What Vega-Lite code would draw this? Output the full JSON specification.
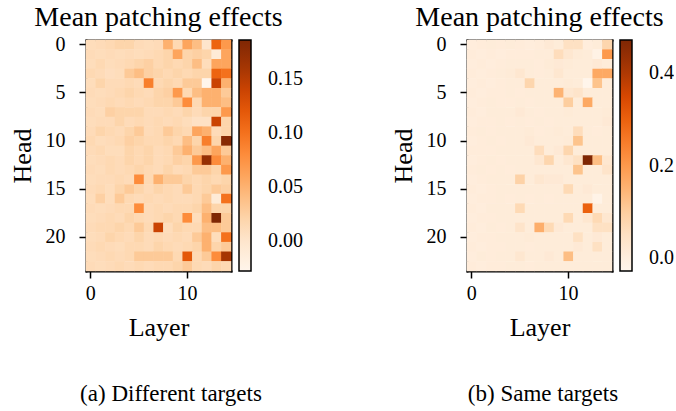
{
"$schema":"https://vega.github.io/schema/vega-lite/v6.json",
"padding":{"left":9,"top":4,"right":0,"bottom":0},
"background":"white",
"config":{
 "font":"Liberation Serif",
 "view":{"stroke":null},
 "axis":{"domain":true,"domainColor":"black","domainWidth":2,"domainCap":"square","zindex":1,"grid":false,"tickColor":"black","tickSize":7,"tickWidth":1.5,"labelFont":"Liberation Serif","labelFontSize":20,"labelColor":"black","labelAngle":0,"titleFont":"Liberation Serif","titleFontSize":26,"titleFontWeight":"normal","titleColor":"black"},
 "axisX":{"labelPadding":5,"titlePadding":11},
 "axisY":{"labelPadding":14,"titlePadding":10},
 "legend":{"type":"gradient","direction":"vertical","gradientLength":231,"gradientThickness":12,"gradientStrokeColor":"black","gradientStrokeWidth":1.5,"labelFont":"Liberation Serif","labelFontSize":20,"labelColor":"black","labelOffset":17,"padding":0,"orient":"none","legendX":153,"legendY":0},
 "title":{"font":"Liberation Serif","fontSize":28,"fontWeight":"normal","color":"black"}
},
"datasets":{
"a":[
{"h":0,"l":0,"v":0.010},{"h":0,"l":1,"v":0.012},{"h":0,"l":2,"v":0.015},{"h":0,"l":3,"v":0.020},{"h":0,"l":4,"v":0.020},{"h":0,"l":5,"v":0.012},{"h":0,"l":6,"v":0.010},{"h":0,"l":7,"v":0.012},{"h":0,"l":8,"v":0.050},{"h":0,"l":9,"v":0.015},{"h":0,"l":10,"v":0.060},{"h":0,"l":11,"v":0.040},{"h":0,"l":12,"v":0.000},{"h":0,"l":13,"v":0.110},{"h":0,"l":14,"v":0.070},
{"h":1,"l":0,"v":0.012},{"h":1,"l":1,"v":0.010},{"h":1,"l":2,"v":0.012},{"h":1,"l":3,"v":0.010},{"h":1,"l":4,"v":0.012},{"h":1,"l":5,"v":0.010},{"h":1,"l":6,"v":0.012},{"h":1,"l":7,"v":0.015},{"h":1,"l":8,"v":0.020},{"h":1,"l":9,"v":0.060},{"h":1,"l":10,"v":0.020},{"h":1,"l":11,"v":0.025},{"h":1,"l":12,"v":0.020},{"h":1,"l":13,"v":-0.010},{"h":1,"l":14,"v":0.060},
{"h":2,"l":0,"v":0.010},{"h":2,"l":1,"v":0.015},{"h":2,"l":2,"v":0.010},{"h":2,"l":3,"v":0.012},{"h":2,"l":4,"v":0.015},{"h":2,"l":5,"v":0.020},{"h":2,"l":6,"v":0.025},{"h":2,"l":7,"v":0.015},{"h":2,"l":8,"v":0.020},{"h":2,"l":9,"v":0.015},{"h":2,"l":10,"v":0.020},{"h":2,"l":11,"v":0.040},{"h":2,"l":12,"v":0.010},{"h":2,"l":13,"v":0.060},{"h":2,"l":14,"v":0.060},
{"h":3,"l":0,"v":0.015},{"h":3,"l":1,"v":0.012},{"h":3,"l":2,"v":0.008},{"h":3,"l":3,"v":0.010},{"h":3,"l":4,"v":0.030},{"h":3,"l":5,"v":0.040},{"h":3,"l":6,"v":0.025},{"h":3,"l":7,"v":0.020},{"h":3,"l":8,"v":0.015},{"h":3,"l":9,"v":0.020},{"h":3,"l":10,"v":0.015},{"h":3,"l":11,"v":0.020},{"h":3,"l":12,"v":0.020},{"h":3,"l":13,"v":0.110},{"h":3,"l":14,"v":0.100},
{"h":4,"l":0,"v":0.010},{"h":4,"l":1,"v":0.020},{"h":4,"l":2,"v":0.012},{"h":4,"l":3,"v":0.012},{"h":4,"l":4,"v":0.015},{"h":4,"l":5,"v":0.012},{"h":4,"l":6,"v":0.090},{"h":4,"l":7,"v":0.015},{"h":4,"l":8,"v":0.020},{"h":4,"l":9,"v":0.015},{"h":4,"l":10,"v":0.030},{"h":4,"l":11,"v":0.030},{"h":4,"l":12,"v":-0.028},{"h":4,"l":13,"v":0.140},{"h":4,"l":14,"v":0.050},
{"h":5,"l":0,"v":0.012},{"h":5,"l":1,"v":0.010},{"h":5,"l":2,"v":0.012},{"h":5,"l":3,"v":0.015},{"h":5,"l":4,"v":0.020},{"h":5,"l":5,"v":0.015},{"h":5,"l":6,"v":0.012},{"h":5,"l":7,"v":0.020},{"h":5,"l":8,"v":0.025},{"h":5,"l":9,"v":0.070},{"h":5,"l":10,"v":0.015},{"h":5,"l":11,"v":0.040},{"h":5,"l":12,"v":0.050},{"h":5,"l":13,"v":0.050},{"h":5,"l":14,"v":0.030},
{"h":6,"l":0,"v":0.010},{"h":6,"l":1,"v":0.012},{"h":6,"l":2,"v":0.015},{"h":6,"l":3,"v":0.012},{"h":6,"l":4,"v":0.015},{"h":6,"l":5,"v":0.012},{"h":6,"l":6,"v":0.015},{"h":6,"l":7,"v":0.020},{"h":6,"l":8,"v":0.020},{"h":6,"l":9,"v":0.030},{"h":6,"l":10,"v":0.080},{"h":6,"l":11,"v":0.015},{"h":6,"l":12,"v":0.050},{"h":6,"l":13,"v":0.050},{"h":6,"l":14,"v":0.040},
{"h":7,"l":0,"v":0.012},{"h":7,"l":1,"v":0.010},{"h":7,"l":2,"v":0.025},{"h":7,"l":3,"v":0.020},{"h":7,"l":4,"v":0.020},{"h":7,"l":5,"v":0.020},{"h":7,"l":6,"v":0.012},{"h":7,"l":7,"v":0.012},{"h":7,"l":8,"v":0.015},{"h":7,"l":9,"v":0.012},{"h":7,"l":10,"v":0.020},{"h":7,"l":11,"v":0.012},{"h":7,"l":12,"v":0.020},{"h":7,"l":13,"v":0.020},{"h":7,"l":14,"v":0.070},
{"h":8,"l":0,"v":0.010},{"h":8,"l":1,"v":0.012},{"h":8,"l":2,"v":0.012},{"h":8,"l":3,"v":0.020},{"h":8,"l":4,"v":0.012},{"h":8,"l":5,"v":0.015},{"h":8,"l":6,"v":0.012},{"h":8,"l":7,"v":0.015},{"h":8,"l":8,"v":0.012},{"h":8,"l":9,"v":0.015},{"h":8,"l":10,"v":0.010},{"h":8,"l":11,"v":0.005},{"h":8,"l":12,"v":0.005},{"h":8,"l":13,"v":0.140},{"h":8,"l":14,"v":0.020},
{"h":9,"l":0,"v":0.012},{"h":9,"l":1,"v":0.020},{"h":9,"l":2,"v":0.015},{"h":9,"l":3,"v":0.012},{"h":9,"l":4,"v":0.020},{"h":9,"l":5,"v":0.030},{"h":9,"l":6,"v":0.012},{"h":9,"l":7,"v":0.015},{"h":9,"l":8,"v":0.030},{"h":9,"l":9,"v":0.020},{"h":9,"l":10,"v":0.015},{"h":9,"l":11,"v":0.060},{"h":9,"l":12,"v":0.050},{"h":9,"l":13,"v":0.012},{"h":9,"l":14,"v":0.020},
{"h":10,"l":0,"v":0.015},{"h":10,"l":1,"v":0.010},{"h":10,"l":2,"v":0.012},{"h":10,"l":3,"v":0.015},{"h":10,"l":4,"v":0.025},{"h":10,"l":5,"v":0.020},{"h":10,"l":6,"v":0.015},{"h":10,"l":7,"v":0.015},{"h":10,"l":8,"v":0.020},{"h":10,"l":9,"v":0.015},{"h":10,"l":10,"v":0.040},{"h":10,"l":11,"v":0.020},{"h":10,"l":12,"v":0.090},{"h":10,"l":13,"v":0.020},{"h":10,"l":14,"v":0.180},
{"h":11,"l":0,"v":0.012},{"h":11,"l":1,"v":0.015},{"h":11,"l":2,"v":0.010},{"h":11,"l":3,"v":0.010},{"h":11,"l":4,"v":0.020},{"h":11,"l":5,"v":0.015},{"h":11,"l":6,"v":0.020},{"h":11,"l":7,"v":0.012},{"h":11,"l":8,"v":0.015},{"h":11,"l":9,"v":0.030},{"h":11,"l":10,"v":0.050},{"h":11,"l":11,"v":0.030},{"h":11,"l":12,"v":0.040},{"h":11,"l":13,"v":0.060},{"h":11,"l":14,"v":0.030},
{"h":12,"l":0,"v":0.010},{"h":12,"l":1,"v":0.012},{"h":12,"l":2,"v":0.015},{"h":12,"l":3,"v":0.012},{"h":12,"l":4,"v":0.020},{"h":12,"l":5,"v":0.015},{"h":12,"l":6,"v":0.020},{"h":12,"l":7,"v":0.012},{"h":12,"l":8,"v":0.015},{"h":12,"l":9,"v":0.025},{"h":12,"l":10,"v":0.020},{"h":12,"l":11,"v":0.070},{"h":12,"l":12,"v":0.170},{"h":12,"l":13,"v":0.080},{"h":12,"l":14,"v":0.050},
{"h":13,"l":0,"v":0.012},{"h":13,"l":1,"v":0.010},{"h":13,"l":2,"v":0.015},{"h":13,"l":3,"v":0.012},{"h":13,"l":4,"v":0.015},{"h":13,"l":5,"v":0.020},{"h":13,"l":6,"v":0.015},{"h":13,"l":7,"v":0.012},{"h":13,"l":8,"v":0.020},{"h":13,"l":9,"v":0.012},{"h":13,"l":10,"v":0.015},{"h":13,"l":11,"v":0.030},{"h":13,"l":12,"v":0.030},{"h":13,"l":13,"v":0.020},{"h":13,"l":14,"v":0.070},
{"h":14,"l":0,"v":0.010},{"h":14,"l":1,"v":0.012},{"h":14,"l":2,"v":0.012},{"h":14,"l":3,"v":0.015},{"h":14,"l":4,"v":0.012},{"h":14,"l":5,"v":0.080},{"h":14,"l":6,"v":0.015},{"h":14,"l":7,"v":0.050},{"h":14,"l":8,"v":0.030},{"h":14,"l":9,"v":0.030},{"h":14,"l":10,"v":0.020},{"h":14,"l":11,"v":0.015},{"h":14,"l":12,"v":0.020},{"h":14,"l":13,"v":0.015},{"h":14,"l":14,"v":0.020},
{"h":15,"l":0,"v":0.012},{"h":15,"l":1,"v":0.015},{"h":15,"l":2,"v":0.010},{"h":15,"l":3,"v":0.020},{"h":15,"l":4,"v":0.030},{"h":15,"l":5,"v":0.020},{"h":15,"l":6,"v":0.012},{"h":15,"l":7,"v":0.020},{"h":15,"l":8,"v":0.015},{"h":15,"l":9,"v":0.012},{"h":15,"l":10,"v":0.030},{"h":15,"l":11,"v":0.015},{"h":15,"l":12,"v":0.020},{"h":15,"l":13,"v":0.030},{"h":15,"l":14,"v":0.025},
{"h":16,"l":0,"v":0.010},{"h":16,"l":1,"v":0.025},{"h":16,"l":2,"v":0.010},{"h":16,"l":3,"v":0.030},{"h":16,"l":4,"v":0.015},{"h":16,"l":5,"v":0.012},{"h":16,"l":6,"v":0.015},{"h":16,"l":7,"v":0.012},{"h":16,"l":8,"v":0.015},{"h":16,"l":9,"v":0.012},{"h":16,"l":10,"v":0.012},{"h":16,"l":11,"v":0.015},{"h":16,"l":12,"v":0.030},{"h":16,"l":13,"v":-0.010},{"h":16,"l":14,"v":0.100},
{"h":17,"l":0,"v":0.012},{"h":17,"l":1,"v":0.010},{"h":17,"l":2,"v":0.012},{"h":17,"l":3,"v":0.015},{"h":17,"l":4,"v":0.015},{"h":17,"l":5,"v":0.080},{"h":17,"l":6,"v":0.012},{"h":17,"l":7,"v":0.015},{"h":17,"l":8,"v":0.012},{"h":17,"l":9,"v":0.015},{"h":17,"l":10,"v":0.015},{"h":17,"l":11,"v":0.020},{"h":17,"l":12,"v":0.040},{"h":17,"l":13,"v":0.020},{"h":17,"l":14,"v":0.020},
{"h":18,"l":0,"v":0.010},{"h":18,"l":1,"v":0.012},{"h":18,"l":2,"v":0.015},{"h":18,"l":3,"v":0.012},{"h":18,"l":4,"v":0.020},{"h":18,"l":5,"v":0.015},{"h":18,"l":6,"v":0.012},{"h":18,"l":7,"v":0.015},{"h":18,"l":8,"v":0.020},{"h":18,"l":9,"v":0.015},{"h":18,"l":10,"v":0.080},{"h":18,"l":11,"v":0.010},{"h":18,"l":12,"v":0.050},{"h":18,"l":13,"v":0.186},{"h":18,"l":14,"v":0.030},
{"h":19,"l":0,"v":0.012},{"h":19,"l":1,"v":0.015},{"h":19,"l":2,"v":0.015},{"h":19,"l":3,"v":0.020},{"h":19,"l":4,"v":0.015},{"h":19,"l":5,"v":0.030},{"h":19,"l":6,"v":0.015},{"h":19,"l":7,"v":0.140},{"h":19,"l":8,"v":0.010},{"h":19,"l":9,"v":0.020},{"h":19,"l":10,"v":0.015},{"h":19,"l":11,"v":0.015},{"h":19,"l":12,"v":0.040},{"h":19,"l":13,"v":0.040},{"h":19,"l":14,"v":0.030},
{"h":20,"l":0,"v":0.010},{"h":20,"l":1,"v":0.012},{"h":20,"l":2,"v":0.020},{"h":20,"l":3,"v":0.015},{"h":20,"l":4,"v":0.012},{"h":20,"l":5,"v":0.020},{"h":20,"l":6,"v":0.012},{"h":20,"l":7,"v":0.015},{"h":20,"l":8,"v":0.012},{"h":20,"l":9,"v":0.015},{"h":20,"l":10,"v":0.012},{"h":20,"l":11,"v":0.030},{"h":20,"l":12,"v":0.050},{"h":20,"l":13,"v":0.010},{"h":20,"l":14,"v":0.100},
{"h":21,"l":0,"v":0.012},{"h":21,"l":1,"v":0.015},{"h":21,"l":2,"v":0.012},{"h":21,"l":3,"v":0.010},{"h":21,"l":4,"v":0.015},{"h":21,"l":5,"v":0.015},{"h":21,"l":6,"v":0.012},{"h":21,"l":7,"v":0.020},{"h":21,"l":8,"v":0.015},{"h":21,"l":9,"v":0.012},{"h":21,"l":10,"v":0.015},{"h":21,"l":11,"v":0.020},{"h":21,"l":12,"v":0.050},{"h":21,"l":13,"v":0.020},{"h":21,"l":14,"v":0.030},
{"h":22,"l":0,"v":0.010},{"h":22,"l":1,"v":0.012},{"h":22,"l":2,"v":0.015},{"h":22,"l":3,"v":0.012},{"h":22,"l":4,"v":0.015},{"h":22,"l":5,"v":0.030},{"h":22,"l":6,"v":0.030},{"h":22,"l":7,"v":0.030},{"h":22,"l":8,"v":0.030},{"h":22,"l":9,"v":0.015},{"h":22,"l":10,"v":0.120},{"h":22,"l":11,"v":0.015},{"h":22,"l":12,"v":0.030},{"h":22,"l":13,"v":0.080},{"h":22,"l":14,"v":0.160},
{"h":23,"l":0,"v":0.012},{"h":23,"l":1,"v":0.010},{"h":23,"l":2,"v":0.012},{"h":23,"l":3,"v":0.015},{"h":23,"l":4,"v":0.012},{"h":23,"l":5,"v":0.015},{"h":23,"l":6,"v":0.012},{"h":23,"l":7,"v":0.015},{"h":23,"l":8,"v":0.015},{"h":23,"l":9,"v":0.020},{"h":23,"l":10,"v":0.030},{"h":23,"l":11,"v":0.015},{"h":23,"l":12,"v":0.012},{"h":23,"l":13,"v":0.020},{"h":23,"l":14,"v":0.015}
],
"b":[
{"h":0,"l":0,"v":0.005},{"h":0,"l":1,"v":0.008},{"h":0,"l":2,"v":0.010},{"h":0,"l":3,"v":0.008},{"h":0,"l":4,"v":0.010},{"h":0,"l":5,"v":0.008},{"h":0,"l":6,"v":0.005},{"h":0,"l":7,"v":0.008},{"h":0,"l":8,"v":0.020},{"h":0,"l":9,"v":0.010},{"h":0,"l":10,"v":0.050},{"h":0,"l":11,"v":0.050},{"h":0,"l":12,"v":0.005},{"h":0,"l":13,"v":0.010},{"h":0,"l":14,"v":0.080},
{"h":1,"l":0,"v":0.008},{"h":1,"l":1,"v":0.005},{"h":1,"l":2,"v":0.008},{"h":1,"l":3,"v":0.005},{"h":1,"l":4,"v":0.008},{"h":1,"l":5,"v":0.008},{"h":1,"l":6,"v":0.008},{"h":1,"l":7,"v":0.010},{"h":1,"l":8,"v":0.010},{"h":1,"l":9,"v":0.060},{"h":1,"l":10,"v":0.030},{"h":1,"l":11,"v":0.015},{"h":1,"l":12,"v":0.010},{"h":1,"l":13,"v":-0.015},{"h":1,"l":14,"v":0.200},
{"h":2,"l":0,"v":0.005},{"h":2,"l":1,"v":0.008},{"h":2,"l":2,"v":0.005},{"h":2,"l":3,"v":0.008},{"h":2,"l":4,"v":0.010},{"h":2,"l":5,"v":0.010},{"h":2,"l":6,"v":0.010},{"h":2,"l":7,"v":0.008},{"h":2,"l":8,"v":0.015},{"h":2,"l":9,"v":0.020},{"h":2,"l":10,"v":0.015},{"h":2,"l":11,"v":0.010},{"h":2,"l":12,"v":0.010},{"h":2,"l":13,"v":0.020},{"h":2,"l":14,"v":0.010},
{"h":3,"l":0,"v":0.008},{"h":3,"l":1,"v":0.005},{"h":3,"l":2,"v":0.008},{"h":3,"l":3,"v":0.010},{"h":3,"l":4,"v":0.015},{"h":3,"l":5,"v":0.030},{"h":3,"l":6,"v":0.010},{"h":3,"l":7,"v":0.008},{"h":3,"l":8,"v":0.010},{"h":3,"l":9,"v":0.030},{"h":3,"l":10,"v":0.010},{"h":3,"l":11,"v":0.010},{"h":3,"l":12,"v":0.010},{"h":3,"l":13,"v":0.170},{"h":3,"l":14,"v":0.170},
{"h":4,"l":0,"v":0.005},{"h":4,"l":1,"v":0.008},{"h":4,"l":2,"v":0.005},{"h":4,"l":3,"v":0.008},{"h":4,"l":4,"v":0.010},{"h":4,"l":5,"v":0.010},{"h":4,"l":6,"v":0.080},{"h":4,"l":7,"v":0.010},{"h":4,"l":8,"v":0.010},{"h":4,"l":9,"v":0.010},{"h":4,"l":10,"v":0.015},{"h":4,"l":11,"v":0.010},{"h":4,"l":12,"v":-0.028},{"h":4,"l":13,"v":0.120},{"h":4,"l":14,"v":0.010},
{"h":5,"l":0,"v":0.008},{"h":5,"l":1,"v":0.005},{"h":5,"l":2,"v":0.008},{"h":5,"l":3,"v":0.008},{"h":5,"l":4,"v":0.010},{"h":5,"l":5,"v":0.008},{"h":5,"l":6,"v":0.010},{"h":5,"l":7,"v":0.010},{"h":5,"l":8,"v":0.010},{"h":5,"l":9,"v":0.150},{"h":5,"l":10,"v":0.030},{"h":5,"l":11,"v":0.040},{"h":5,"l":12,"v":0.010},{"h":5,"l":13,"v":0.010},{"h":5,"l":14,"v":0.010},
{"h":6,"l":0,"v":0.005},{"h":6,"l":1,"v":0.008},{"h":6,"l":2,"v":0.010},{"h":6,"l":3,"v":0.008},{"h":6,"l":4,"v":0.008},{"h":6,"l":5,"v":0.010},{"h":6,"l":6,"v":0.008},{"h":6,"l":7,"v":0.010},{"h":6,"l":8,"v":0.010},{"h":6,"l":9,"v":0.010},{"h":6,"l":10,"v":0.100},{"h":6,"l":11,"v":0.010},{"h":6,"l":12,"v":0.170},{"h":6,"l":13,"v":0.010},{"h":6,"l":14,"v":0.010},
{"h":7,"l":0,"v":0.008},{"h":7,"l":1,"v":0.005},{"h":7,"l":2,"v":0.010},{"h":7,"l":3,"v":0.010},{"h":7,"l":4,"v":0.010},{"h":7,"l":5,"v":0.020},{"h":7,"l":6,"v":0.010},{"h":7,"l":7,"v":0.008},{"h":7,"l":8,"v":0.010},{"h":7,"l":9,"v":0.010},{"h":7,"l":10,"v":0.015},{"h":7,"l":11,"v":0.010},{"h":7,"l":12,"v":0.010},{"h":7,"l":13,"v":0.010},{"h":7,"l":14,"v":0.015},
{"h":8,"l":0,"v":0.005},{"h":8,"l":1,"v":0.008},{"h":8,"l":2,"v":0.008},{"h":8,"l":3,"v":0.010},{"h":8,"l":4,"v":0.008},{"h":8,"l":5,"v":0.010},{"h":8,"l":6,"v":0.008},{"h":8,"l":7,"v":0.010},{"h":8,"l":8,"v":0.008},{"h":8,"l":9,"v":0.010},{"h":8,"l":10,"v":0.010},{"h":8,"l":11,"v":0.010},{"h":8,"l":12,"v":0.010},{"h":8,"l":13,"v":0.010},{"h":8,"l":14,"v":0.020},
{"h":9,"l":0,"v":0.008},{"h":9,"l":1,"v":0.010},{"h":9,"l":2,"v":0.008},{"h":9,"l":3,"v":0.010},{"h":9,"l":4,"v":0.010},{"h":9,"l":5,"v":0.010},{"h":9,"l":6,"v":0.015},{"h":9,"l":7,"v":0.008},{"h":9,"l":8,"v":0.010},{"h":9,"l":9,"v":0.015},{"h":9,"l":10,"v":0.010},{"h":9,"l":11,"v":0.060},{"h":9,"l":12,"v":0.010},{"h":9,"l":13,"v":0.008},{"h":9,"l":14,"v":0.010},
{"h":10,"l":0,"v":0.005},{"h":10,"l":1,"v":0.008},{"h":10,"l":2,"v":0.010},{"h":10,"l":3,"v":0.008},{"h":10,"l":4,"v":0.010},{"h":10,"l":5,"v":0.010},{"h":10,"l":6,"v":0.020},{"h":10,"l":7,"v":0.010},{"h":10,"l":8,"v":0.010},{"h":10,"l":9,"v":0.010},{"h":10,"l":10,"v":0.015},{"h":10,"l":11,"v":0.120},{"h":10,"l":12,"v":0.010},{"h":10,"l":13,"v":0.010},{"h":10,"l":14,"v":0.010},
{"h":11,"l":0,"v":0.008},{"h":11,"l":1,"v":0.008},{"h":11,"l":2,"v":0.008},{"h":11,"l":3,"v":0.010},{"h":11,"l":4,"v":0.010},{"h":11,"l":5,"v":0.010},{"h":11,"l":6,"v":0.010},{"h":11,"l":7,"v":0.060},{"h":11,"l":8,"v":0.010},{"h":11,"l":9,"v":0.020},{"h":11,"l":10,"v":0.080},{"h":11,"l":11,"v":0.010},{"h":11,"l":12,"v":0.010},{"h":11,"l":13,"v":0.010},{"h":11,"l":14,"v":0.010},
{"h":12,"l":0,"v":0.005},{"h":12,"l":1,"v":0.008},{"h":12,"l":2,"v":0.010},{"h":12,"l":3,"v":0.008},{"h":12,"l":4,"v":0.010},{"h":12,"l":5,"v":0.010},{"h":12,"l":6,"v":0.010},{"h":12,"l":7,"v":0.030},{"h":12,"l":8,"v":0.080},{"h":12,"l":9,"v":0.010},{"h":12,"l":10,"v":0.030},{"h":12,"l":11,"v":0.050},{"h":12,"l":12,"v":0.472},{"h":12,"l":13,"v":0.130},{"h":12,"l":14,"v":0.030},
{"h":13,"l":0,"v":0.008},{"h":13,"l":1,"v":0.010},{"h":13,"l":2,"v":0.008},{"h":13,"l":3,"v":0.010},{"h":13,"l":4,"v":0.008},{"h":13,"l":5,"v":0.010},{"h":13,"l":6,"v":0.010},{"h":13,"l":7,"v":0.010},{"h":13,"l":8,"v":0.010},{"h":13,"l":9,"v":0.010},{"h":13,"l":10,"v":0.010},{"h":13,"l":11,"v":0.120},{"h":13,"l":12,"v":0.010},{"h":13,"l":13,"v":0.010},{"h":13,"l":14,"v":0.040},
{"h":14,"l":0,"v":0.005},{"h":14,"l":1,"v":0.008},{"h":14,"l":2,"v":0.010},{"h":14,"l":3,"v":0.010},{"h":14,"l":4,"v":0.010},{"h":14,"l":5,"v":0.090},{"h":14,"l":6,"v":0.010},{"h":14,"l":7,"v":0.030},{"h":14,"l":8,"v":0.020},{"h":14,"l":9,"v":0.020},{"h":14,"l":10,"v":0.010},{"h":14,"l":11,"v":0.010},{"h":14,"l":12,"v":0.010},{"h":14,"l":13,"v":0.010},{"h":14,"l":14,"v":0.010},
{"h":15,"l":0,"v":0.008},{"h":15,"l":1,"v":0.005},{"h":15,"l":2,"v":0.008},{"h":15,"l":3,"v":0.010},{"h":15,"l":4,"v":0.010},{"h":15,"l":5,"v":0.010},{"h":15,"l":6,"v":0.010},{"h":15,"l":7,"v":0.010},{"h":15,"l":8,"v":0.010},{"h":15,"l":9,"v":0.010},{"h":15,"l":10,"v":0.070},{"h":15,"l":11,"v":0.010},{"h":15,"l":12,"v":0.020},{"h":15,"l":13,"v":0.010},{"h":15,"l":14,"v":0.010},
{"h":16,"l":0,"v":0.005},{"h":16,"l":1,"v":0.008},{"h":16,"l":2,"v":0.008},{"h":16,"l":3,"v":0.010},{"h":16,"l":4,"v":0.008},{"h":16,"l":5,"v":0.010},{"h":16,"l":6,"v":0.008},{"h":16,"l":7,"v":0.010},{"h":16,"l":8,"v":0.008},{"h":16,"l":9,"v":0.010},{"h":16,"l":10,"v":0.010},{"h":16,"l":11,"v":0.010},{"h":16,"l":12,"v":0.010},{"h":16,"l":13,"v":-0.020},{"h":16,"l":14,"v":0.010},
{"h":17,"l":0,"v":0.008},{"h":17,"l":1,"v":0.005},{"h":17,"l":2,"v":0.010},{"h":17,"l":3,"v":0.010},{"h":17,"l":4,"v":0.010},{"h":17,"l":5,"v":0.070},{"h":17,"l":6,"v":0.010},{"h":17,"l":7,"v":0.010},{"h":17,"l":8,"v":0.010},{"h":17,"l":9,"v":0.010},{"h":17,"l":10,"v":0.010},{"h":17,"l":11,"v":0.010},{"h":17,"l":12,"v":0.300},{"h":17,"l":13,"v":0.010},{"h":17,"l":14,"v":0.010},
{"h":18,"l":0,"v":0.005},{"h":18,"l":1,"v":0.008},{"h":18,"l":2,"v":0.008},{"h":18,"l":3,"v":0.010},{"h":18,"l":4,"v":0.010},{"h":18,"l":5,"v":0.010},{"h":18,"l":6,"v":0.010},{"h":18,"l":7,"v":0.010},{"h":18,"l":8,"v":0.010},{"h":18,"l":9,"v":0.010},{"h":18,"l":10,"v":0.070},{"h":18,"l":11,"v":0.010},{"h":18,"l":12,"v":0.030},{"h":18,"l":13,"v":0.070},{"h":18,"l":14,"v":0.030},
{"h":19,"l":0,"v":0.008},{"h":19,"l":1,"v":0.005},{"h":19,"l":2,"v":0.010},{"h":19,"l":3,"v":0.008},{"h":19,"l":4,"v":0.010},{"h":19,"l":5,"v":0.040},{"h":19,"l":6,"v":0.010},{"h":19,"l":7,"v":0.160},{"h":19,"l":8,"v":0.070},{"h":19,"l":9,"v":0.020},{"h":19,"l":10,"v":0.010},{"h":19,"l":11,"v":0.010},{"h":19,"l":12,"v":0.010},{"h":19,"l":13,"v":0.050},{"h":19,"l":14,"v":0.050},
{"h":20,"l":0,"v":0.005},{"h":20,"l":1,"v":0.008},{"h":20,"l":2,"v":0.008},{"h":20,"l":3,"v":0.010},{"h":20,"l":4,"v":0.010},{"h":20,"l":5,"v":0.010},{"h":20,"l":6,"v":0.015},{"h":20,"l":7,"v":0.010},{"h":20,"l":8,"v":0.010},{"h":20,"l":9,"v":0.010},{"h":20,"l":10,"v":0.010},{"h":20,"l":11,"v":0.050},{"h":20,"l":12,"v":0.010},{"h":20,"l":13,"v":0.020},{"h":20,"l":14,"v":0.010},
{"h":21,"l":0,"v":0.008},{"h":21,"l":1,"v":0.005},{"h":21,"l":2,"v":0.008},{"h":21,"l":3,"v":0.008},{"h":21,"l":4,"v":0.010},{"h":21,"l":5,"v":0.010},{"h":21,"l":6,"v":0.008},{"h":21,"l":7,"v":0.010},{"h":21,"l":8,"v":0.010},{"h":21,"l":9,"v":0.010},{"h":21,"l":10,"v":0.010},{"h":21,"l":11,"v":0.020},{"h":21,"l":12,"v":0.010},{"h":21,"l":13,"v":0.050},{"h":21,"l":14,"v":0.010},
{"h":22,"l":0,"v":0.005},{"h":22,"l":1,"v":0.010},{"h":22,"l":2,"v":0.008},{"h":22,"l":3,"v":0.010},{"h":22,"l":4,"v":0.010},{"h":22,"l":5,"v":0.030},{"h":22,"l":6,"v":0.010},{"h":22,"l":7,"v":0.010},{"h":22,"l":8,"v":0.020},{"h":22,"l":9,"v":0.010},{"h":22,"l":10,"v":0.130},{"h":22,"l":11,"v":0.010},{"h":22,"l":12,"v":0.010},{"h":22,"l":13,"v":0.010},{"h":22,"l":14,"v":0.010},
{"h":23,"l":0,"v":0.008},{"h":23,"l":1,"v":0.005},{"h":23,"l":2,"v":0.008},{"h":23,"l":3,"v":0.008},{"h":23,"l":4,"v":0.010},{"h":23,"l":5,"v":0.010},{"h":23,"l":6,"v":0.008},{"h":23,"l":7,"v":0.010},{"h":23,"l":8,"v":0.010},{"h":23,"l":9,"v":0.010},{"h":23,"l":10,"v":0.010},{"h":23,"l":11,"v":0.010},{"h":23,"l":12,"v":0.010},{"h":23,"l":13,"v":0.010},{"h":23,"l":14,"v":0.010}
]
},
"hconcat":[
 {"title":{"text":"(a) Different targets","orient":"bottom","anchor":"middle","fontSize":23,"offset":43,"dx":15,"font":"Liberation Serif"},
  "vconcat":[{
   "width":145,"height":231,
   "title":{"text":"Mean patching effects","frame":"group","anchor":"middle","offset":2,"font":"Liberation Serif"},
   "data":{"name":"a"},
   "layer":[
    {"mark":{"type":"rect","width":{"band":1.05},"height":{"band":1.05}},
     "encoding":{
      "x":{"field":"l","type":"ordinal","scale":{"paddingInner":0,"paddingOuter":0},"axis":{"values":[0,10],"title":"Layer"}},
      "y":{"field":"h","type":"ordinal","scale":{"paddingInner":0,"paddingOuter":0},"axis":{"values":[0,5,10,15,20],"title":"Head"}},
      "color":{"field":"v","type":"quantitative","scale":{"domain":[-0.028,-0.00125,0.0255,0.05225,0.079,0.10575,0.1325,0.15925,0.186],"range":["#fff5eb","#fee6ce","#fdd0a2","#fdae6b","#fd8d3c","#f16913","#d94801","#a63603","#7f2704"],"zero":false,"nice":false},"legend":{"type":"gradient","direction":"vertical","title":null,"values":[0,0.05,0.1,0.15],"format":".2f","labelOffset":17}}
     }},
    {"mark":{"type":"rect","opacity":0},
     "encoding":{
      "x":{"field":"l","type":"ordinal","axis":{"orient":"top","labels":false,"ticks":false,"title":null,"minExtent":0,"maxExtent":0,"offset":0}},
      "y":{"field":"h","type":"ordinal","axis":{"orient":"right","labels":false,"ticks":false,"title":null,"minExtent":0,"maxExtent":0,"offset":0}}
     }}
   ],
   "resolve":{"axis":{"x":"independent","y":"independent"}}
  }]},
 {"title":{"text":"(b) Same targets","orient":"bottom","anchor":"middle","fontSize":23,"offset":43,"dx":11,"font":"Liberation Serif"},
  "vconcat":[{
   "width":145,"height":231,
   "title":{"text":"Mean patching effects","frame":"group","anchor":"middle","offset":2,"font":"Liberation Serif"},
   "data":{"name":"b"},
   "layer":[
    {"mark":{"type":"rect","width":{"band":1.05},"height":{"band":1.05}},
     "encoding":{
      "x":{"field":"l","type":"ordinal","scale":{"paddingInner":0,"paddingOuter":0},"axis":{"values":[0,10],"title":"Layer"}},
      "y":{"field":"h","type":"ordinal","scale":{"paddingInner":0,"paddingOuter":0},"axis":{"values":[0,5,10,15,20],"title":"Head"}},
      "color":{"field":"v","type":"quantitative","scale":{"domain":[-0.028,0.0345,0.097,0.1595,0.222,0.2845,0.347,0.4095,0.472],"range":["#fff5eb","#fee6ce","#fdd0a2","#fdae6b","#fd8d3c","#f16913","#d94801","#a63603","#7f2704"],"zero":false,"nice":false},"legend":{"type":"gradient","direction":"vertical","title":null,"values":[0,0.2,0.4],"format":".1f","labelOffset":17}}
     }},
    {"mark":{"type":"rect","opacity":0},
     "encoding":{
      "x":{"field":"l","type":"ordinal","axis":{"orient":"top","labels":false,"ticks":false,"title":null,"minExtent":0,"maxExtent":0,"offset":0}},
      "y":{"field":"h","type":"ordinal","axis":{"orient":"right","labels":false,"ticks":false,"title":null,"minExtent":0,"maxExtent":0,"offset":0}}
     }}
   ],
   "resolve":{"axis":{"x":"independent","y":"independent"}}
  }]}
],
"spacing":87,
"resolve":{"scale":{"color":"independent"},"legend":{"color":"independent"}}
}
